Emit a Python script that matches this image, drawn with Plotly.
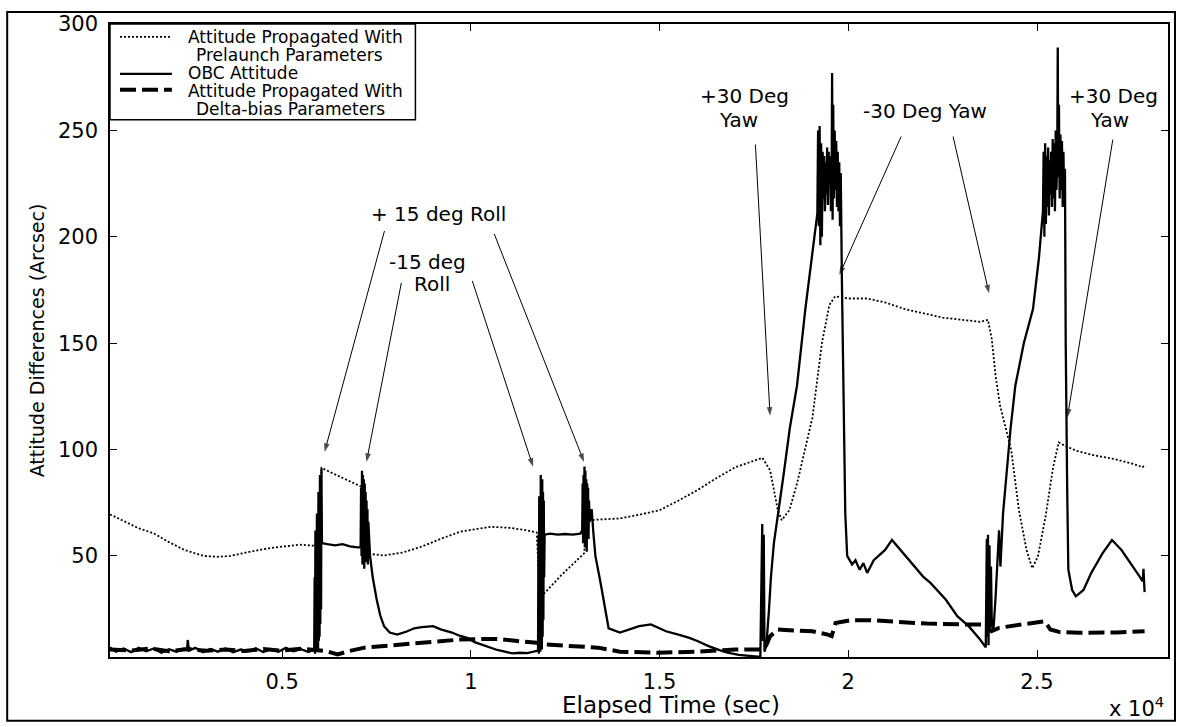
import plotly.graph_objects as go

# ---------------- data ----------------
obc_t = [440, 600, 800, 1000, 1200, 1400, 1600, 1800, 2000, 2200, 2400, 2480, 2500, 2530, 2700, 2900,
         3100, 3300, 3500, 3700, 3900, 4100, 4300, 4500, 4700, 4900, 5100, 5300, 5500, 5700, 5850,
         5862, 5872, 5882, 5892, 5902, 5912, 5922, 5932, 5942, 5952, 5962, 5972, 5982, 5992, 6002,
         6012, 6022, 6032, 6042, 6055,
         6200, 6400, 6600, 6800, 7000, 7080,
         7092, 7104, 7116, 7128, 7140, 7152, 7164, 7176, 7188, 7200, 7212, 7224, 7236, 7248, 7260,
         7272, 7284, 7330,
         7400, 7500, 7600, 7700, 7850, 8050, 8300, 8500, 8700, 9000, 9200, 9500, 9700, 9900, 10100,
         10300, 10500, 10700, 10900, 11100, 11300, 11500, 11700, 11780,
         11792, 11802, 11812, 11822, 11832, 11842, 11852, 11862, 11872, 11882, 11892, 11902, 11912,
         11922, 11932, 11942, 11955,
         12100, 12300, 12500, 12700, 12900,
         12950, 12962, 12974, 12986, 12998, 13010, 13022, 13034, 13046, 13058, 13070, 13082, 13094,
         13106, 13118, 13130, 13150, 13200, 13250,
         13300, 13440, 13550, 13650, 13950, 14200, 14460, 14770, 15170, 15500, 15790, 16000, 16300,
         16550, 16800, 17100, 17420, 17670,
         17700, 17720, 17740, 17760, 17780,
         17830, 17900, 17950, 18029, 18131, 18300, 18450, 18641, 18862, 19000, 19180,
         19200, 19220, 19240, 19260, 19280, 19300, 19320, 19340, 19360, 19380, 19400, 19420, 19440,
         19460, 19480, 19500, 19520, 19540, 19560, 19571, 19585, 19600, 19620, 19640, 19660, 19680,
         19700, 19720, 19740, 19760, 19780, 19800, 19830,
         19870, 19920, 19970, 20100, 20190, 20300, 20400, 20500, 20674, 20976, 21157, 21378, 21680,
         21982, 22183, 22586, 22887, 23189, 23491, 23642,
         23670, 23685, 23700, 23715, 23740, 23760, 23780, 23800, 23843, 23900, 23994, 24030, 24100,
         24200, 24300, 24425, 24650, 24893, 25050, 25157,
         25175, 25195, 25215, 25235, 25255, 25275, 25295, 25315, 25335, 25355, 25375, 25395, 25415,
         25435, 25455, 25475, 25495, 25515, 25535, 25549, 25562, 25580, 25600, 25620, 25640, 25660,
         25680, 25700, 25720, 25740,
         25760, 25800, 25830, 25930, 26030, 26231, 26432, 26734, 26985, 27237, 27488, 27689, 27800,
         27820, 27850]
obc_v = [7, 5, 6.5, 4.8, 6.8, 5.2, 6.5, 4.5, 6.2, 5, 6.5, 5.5, 10.5, 5.5, 6.8, 4.8,
         6.3, 5, 6.5, 4.7, 6, 5.2, 6.6, 4.8, 6.2, 5, 6.8, 5.2, 6.2, 4.8, 6,
         40, 4, 62, 6, 58, 5, 70, 8, 66, 6, 80, 10, 78, 12, 88,
         18, 86, 25, 91, 56,
         55.5, 55, 55.5, 54.5, 54, 54,
         82, 50, 90, 46, 88, 52, 86, 44, 84, 55, 80, 47, 76, 53, 72,
         46, 66, 50,
         40, 30, 22, 17, 14, 13, 14.5, 16, 16.5, 17, 15.5, 14, 12.5, 11.5, 9.5,
         8.3, 7, 5.8, 5, 4.2, 4.5, 4.3, 5.2, 5.5,
         60, 4, 78, 6, 72, 5, 88, 8, 84, 6, 86, 12, 80, 20, 76, 40,
         60,
         60.5, 60, 60.3, 60, 60.5,
         62, 84, 56, 88, 58, 92, 54, 90, 58, 86, 52, 84, 60,
         82, 58, 76, 66, 72, 60,
         50, 37, 25, 16, 14, 15.5, 17, 17.8, 14.6, 13, 11.5, 10, 7.6,
         6, 4.5, 3.5, 2.8, 2.5,
         40, 65, 10, 60, 5,
         8, 25, 40, 56, 68, 90, 110, 130, 166, 185, 211,
         250, 205, 252, 196, 244, 200, 240, 218, 238, 212, 235, 220, 242,
         215, 240, 225, 238, 212, 232, 277, 208, 262, 218, 250, 222, 245,
         214, 240, 212, 235, 205, 230, 180,
         120, 70, 50, 46, 48, 43.5, 46.6, 42, 48, 52.8, 57.5, 52.8, 46.6,
         40.3, 37.2, 29.4, 21.7, 17, 10.7, 7,
         58, 12, 60, 8, 55, 15, 45, 20, 14.6, 30, 62, 45, 70,
         90, 110, 130, 150, 166, 190, 212,
         240, 200, 244, 206, 238, 214, 242, 210, 236, 220, 240, 214, 246,
         218, 244, 212, 250, 222, 236, 289, 228, 262, 218, 248, 222, 245,
         214, 240, 215, 232,
         150, 80, 43.5, 34, 31, 34, 41.9, 51.2, 57.5, 52.8, 46.6, 41.1, 38,
         44, 33]

pre_t = [440, 800, 1200, 1602, 2000, 2414, 2920, 3300, 3630, 4100, 4645, 5456, 5862, 6000, 6045,
         6500, 7080, 7200, 7688, 8195, 8702, 9200, 9716, 10527, 11035, 11500, 11745, 11830, 12400,
         13000, 13080, 13500, 13949, 14500, 15000, 15500, 15990, 16500, 17010, 17724, 17929, 18133,
         18235, 18439, 18641, 19050, 19300, 19500, 19650, 20000, 20500, 21000, 21500, 22000, 22500,
         23000, 23500, 23700, 23800, 23900, 24017, 24319, 24520, 24722, 24873, 25023, 25225, 25426,
         25577, 25728, 26030, 26533, 27036, 27539, 27800, 27850]
pre_v = [69.5, 66.5, 63, 60.6, 56.5, 52.8, 50, 49.6, 50, 51.8, 53.6, 55.3, 54.8, 60, 91.4,
         87.5, 82.7, 51.2, 50.2, 51.6, 54.4, 58, 61.4, 63.7, 63.2, 62, 61, 30.2, 41,
         51.2, 66.8, 67.2, 67.6, 69.5, 71.5, 76, 80.8, 86.5, 91.7, 96.1, 90.2, 71.5,
         66.8, 71.5, 84, 115, 150, 168, 172, 171, 171, 169, 166, 164, 162,
         161, 160, 161, 152, 135, 121, 99.5, 71.5, 52.8, 44.2, 49.7, 68.4, 91.7,
         103.4, 101.9, 99.5, 97.2, 95.6, 93.3, 91.7, 93]

db_t = [440, 1000, 1500, 2000, 2500, 3000, 3500, 4000, 4500, 5000, 5500, 5862, 6166, 6470, 6775,
        7180, 7688, 8702, 9716, 10324, 10729, 11236, 11745, 11948, 12757, 13364, 13949, 14969,
        15990, 17010, 17723, 17825, 17929, 18131, 18540, 19050, 19458, 19560, 19662, 20070, 20573,
        21076, 21579, 22082, 23089, 23592, 23793, 23994, 24598, 25202, 25353, 25604, 26107, 27113,
        27850]
db_v = [6, 5.5, 6.5, 5.2, 6.3, 5.4, 6, 5.3, 6.2, 5.5, 6.4, 6, 5.3, 3.7, 5.3,
        6.9, 7.6, 9.2, 10.7, 11, 11, 10, 9.2, 8.4, 7.6, 6.9, 5, 4.5,
        5, 6, 6, 8, 12.3, 15.4, 15, 14.6, 13, 12.3, 18.5, 19.8, 19.8,
        19.3, 18.8, 18.2, 17.8, 17.8, 14.6, 16.2, 17.8, 19.3, 15.4, 14.2, 13.9, 14,
        14.6]

x_tick_vals = [5000, 10000, 15000, 20000, 25000]
x_tick_text = ["0.5", "1", "1.5", "2", "2.5"]
y_tick_vals = [50, 100, 150, 200, 250, 300]
x_range = [440, 28470]
y_range = [2.5, 300]

legend_labels = ["Attitude Propagated With", "Prelaunch Parameters", "OBC Attitude",
                 "Attitude Propagated With", "Delta-bias Parameters"]

# annotation text lines with (x, y) centre in data units
ann_texts = [("+ 15 deg Roll", 9139, 210.7),
             ("-15 deg", 8848, 188.2),
             ("Roll", 8981, 177.9),
             ("+30 Deg", 17248, 266.3),
             ("Yaw", 17084, 255.1),
             ("-30 Deg Yaw", 22036, 259.1),
             ("+30 Deg", 27030, 266.3),
             ("Yaw", 26924, 255.1)]
# arrows: (tail_x, tail_y, head_x, head_y)
arrows = [(7711, 202.7, 6125, 98.9),
          (10620, 201.3, 13000, 94.2),
          (8160, 178.4, 7235, 94.2),
          (10038, 179.3, 11650, 91.9),
          (17539, 243.4, 17927, 115.9),
          (21400, 247.1, 19761, 182),
          (22776, 247.1, 23729, 173.4),
          (27008, 245.7, 25805, 115.1)]

FONT = "DejaVu Sans, Liberation Sans, Arial, sans-serif"

# ---------------- layout helpers ----------------
W, H = 1182, 727
L, R, T, B = 110, 12, 22, 70
PW, PH = W - L - R, H - T - B


def px(xp):
    return (xp - L) / PW


def py(yp):
    return (H - B - yp) / PH


fig = go.Figure()
fig.add_trace(go.Scatter(x=pre_t, y=pre_v, mode="lines",
                         line=dict(color="black", width=1.8, dash="2px,2px"),
                         name="Prelaunch", showlegend=False, hoverinfo="skip"))
fig.add_trace(go.Scatter(x=obc_t, y=obc_v, mode="lines",
                         line=dict(color="black", width=2.3),
                         name="OBC", showlegend=False, hoverinfo="skip"))
fig.add_trace(go.Scatter(x=db_t, y=db_v, mode="lines",
                         line=dict(color="black", width=4, dash="16px,6px"),
                         name="Delta-bias", showlegend=False, hoverinfo="skip"))

# pointer arrows (line + arrow-head marker at the head end)
for tx, ty, hx, hy in arrows:
    fig.add_trace(go.Scatter(x=[tx, hx], y=[ty, hy], mode="lines+markers",
                             line=dict(color="black", width=1),
                             marker=dict(symbol=["circle", "arrow"], size=[0, 9],
                                         angleref="previous", color="black",
                                         line=dict(width=0)),
                             showlegend=False, hoverinfo="skip"))

annotations = []
for text, x, y in ann_texts:
    annotations.append(dict(x=x, y=y, xref="x", yref="y", text=text, showarrow=False,
                            font=dict(family=FONT, size=20, color="black"),
                            xanchor="center", yanchor="middle", align="center"))

annotations.append(dict(x=px(672), y=py(705), xref="paper", yref="paper",
                        text="Elapsed Time (sec)", showarrow=False,
                        font=dict(family=FONT, size=23, color="black"),
                        xanchor="center", yanchor="middle"))
annotations.append(dict(x=px(1168), y=py(707), xref="paper", yref="paper",
                        text="x 10<sup>4</sup>", showarrow=False,
                        font=dict(family=FONT, size=21, color="black"),
                        xanchor="right", yanchor="middle"))

# legend text
leg_pos = [(186, 35), (194, 53), (186, 71), (186, 89), (194, 107)]
for lab, (lx, ly) in zip(legend_labels, leg_pos):
    annotations.append(dict(x=px(lx), y=py(ly), xref="paper", yref="paper", text=lab,
                            showarrow=False, font=dict(family=FONT, size=17, color="black"),
                            xanchor="left", yanchor="middle"))

shapes = [
    # legend box
    dict(type="rect", xref="paper", yref="paper", x0=px(110), x1=px(416), y0=py(118), y1=py(22),
         line=dict(color="black", width=1.5), fillcolor="white", layer="above"),
    # legend samples
    dict(type="line", xref="paper", yref="paper", x0=px(120), x1=px(172), y0=py(35), y1=py(35),
         line=dict(color="black", width=1.8, dash="2px,2px")),
    dict(type="line", xref="paper", yref="paper", x0=px(120), x1=px(172), y0=py(72), y1=py(72),
         line=dict(color="black", width=2.3)),
    dict(type="line", xref="paper", yref="paper", x0=px(120), x1=px(172), y0=py(88), y1=py(88),
         line=dict(color="black", width=4, dash="16px,6px")),
    # outer figure frame (scanned border)
    dict(type="rect", xref="paper", yref="paper", x0=px(7), x1=px(1177), y0=py(721), y1=py(10),
         line=dict(color="black", width=2), layer="below"),
]

fig.update_layout(
    width=W, height=H, autosize=False,
    margin=dict(l=L, r=R, t=T, b=B),
    paper_bgcolor="white", plot_bgcolor="white",
    showlegend=False,
    font=dict(family=FONT, color="black"),
    annotations=annotations,
    shapes=shapes,
    xaxis=dict(range=x_range, tickvals=x_tick_vals, ticktext=x_tick_text, ticks="inside",
               ticklen=7, tickwidth=1, tickcolor="black", showline=True, linecolor="black",
               linewidth=1.5, mirror="ticks", showgrid=False, zeroline=False,
               tickfont=dict(family=FONT, size=21, color="black"), ticklabelstandoff=5),
    yaxis=dict(range=y_range, tickvals=y_tick_vals, ticks="inside",
               ticklen=7, tickwidth=1, tickcolor="black", showline=True, linecolor="black",
               linewidth=1.5, mirror="ticks", showgrid=False, zeroline=False,
               tickfont=dict(family=FONT, size=21, color="black"), ticklabelstandoff=6,
               title=dict(text="Attitude Differences (Arcsec)", standoff=8,
                          font=dict(family=FONT, size=19, color="black"))),
)

fig.write_html("out.html")
